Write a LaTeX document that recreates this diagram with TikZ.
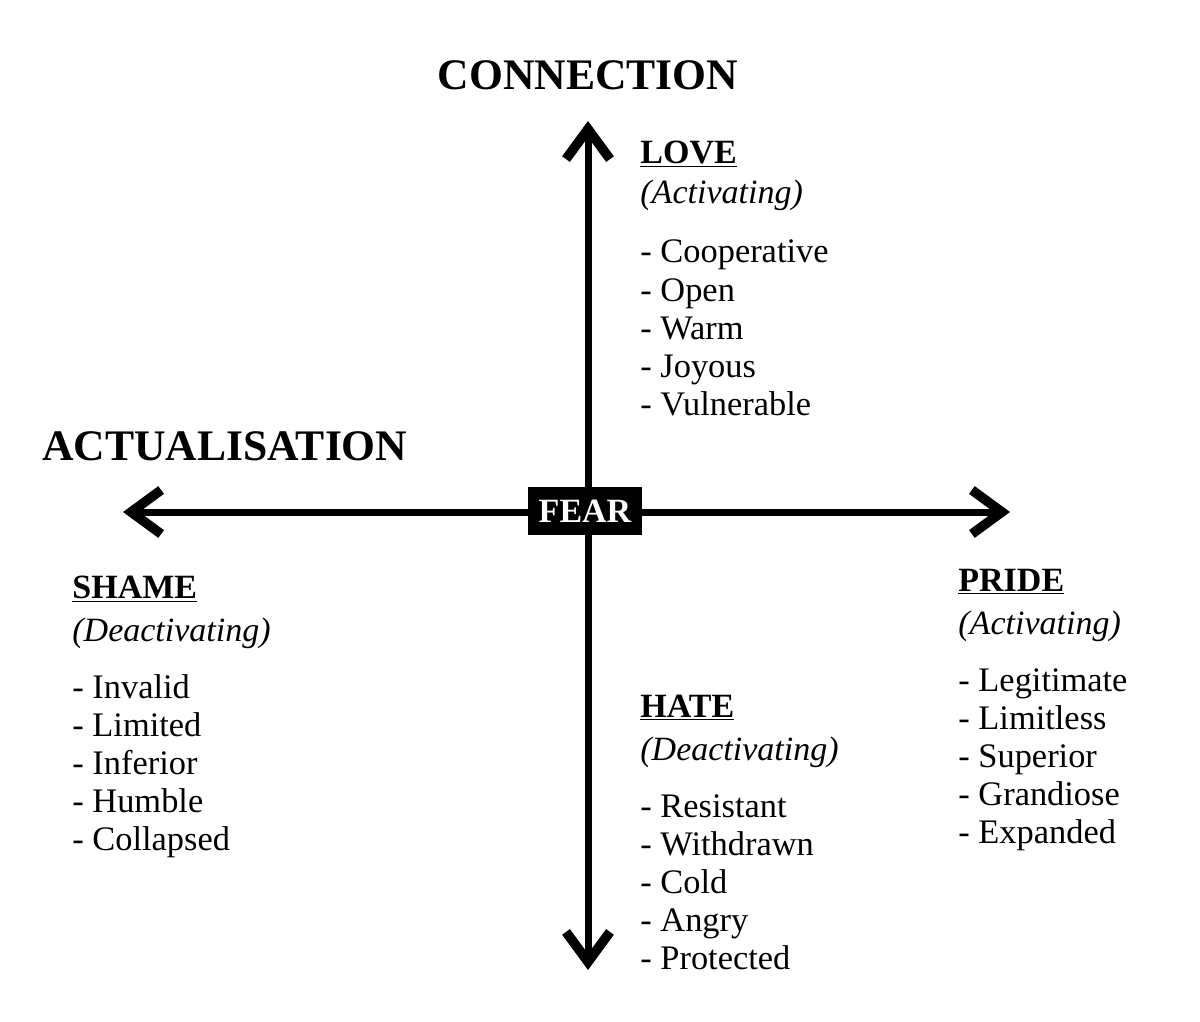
\documentclass[tikz,border=0pt]{standalone}
\usepackage{fontspec}
\setmainfont{Liberation Serif}
\usepackage{tikz}
\usetikzlibrary{positioning}
\usetikzlibrary{arrows.meta}

\tikzset{
  barb/.tip={Straight Barb[length=15pt, width=22pt, line width=4.8pt, line cap=butt, line join=miter]},
  axis/.style={line width=3.5pt, barb-barb},
  title/.style={font=\fontsize{21.8}{24}\selectfont\bfseries, inner sep=0pt},
  head/.style={font=\fontsize{17}{19}\selectfont\bfseries, anchor=base west, inner sep=0pt},
  kind/.style={font=\fontsize{17}{19}\selectfont\itshape, anchor=base west, inner sep=0pt},
  item/.style={font=\fontsize{17.2}{19}\selectfont, anchor=base west, inner sep=0pt},
  fearbox/.style={fill=black, text=white, font=\fontsize{17}{19}\selectfont\bfseries, minimum width=57pt, minimum height=24pt, inner sep=0pt}
}

\begin{document}
\begin{tikzpicture}[x=0.5pt, y=-0.5pt]
  \useasboundingbox (0,0) rectangle (1200,1022);

  % Titulos
  \node[title, anchor=base] (conn) at (588,90) {CONNECTION};
  \node[title, anchor=base west] (act) at (42,460) {ACTUALISATION};

  % Ejes
  \coordinate (top) at (588,121);
  \coordinate (bottom) at (588,970);
  \coordinate (west) at (123,512);
  \coordinate (east) at (1010,512);
  \draw[axis] (bottom) -- (top);
  \draw[axis] (west) -- (east);
  \node[fearbox] (fear) at (585,511) {FEAR};

  % Cuadrantes
  \node[head] (love) at (640,163) {\underline{LOVE}};
  \node[kind] (lovekind) at (640,204) {(Activating)};
  \foreach \w [count=\i] in {Cooperative, Open, Warm, Joyous, Vulnerable}
    \node[item] (love-\i) at (640,{263+38*(\i-1)}) {- \w};

  \node[head] (shame) at (72,598) {\underline{SHAME}};
  \node[kind] (shamekind) at (72,641) {(Deactivating)};
  \foreach \w [count=\i] in {Invalid, Limited, Inferior, Humble, Collapsed}
    \node[item] (shame-\i) at (72,{698+38*(\i-1)}) {- \w};

  \node[head] (pride) at (958,591) {\underline{PRIDE}};
  \node[kind] (pridekind) at (958,634) {(Activating)};
  \foreach \w [count=\i] in {Legitimate, Limitless, Superior, Grandiose, Expanded}
    \node[item] (pride-\i) at (958,{691+38*(\i-1)}) {- \w};

  \node[head] (hate) at (640,717) {\underline{HATE}};
  \node[kind] (hatekind) at (640,760) {(Deactivating)};
  \foreach \w [count=\i] in {Resistant, Withdrawn, Cold, Angry, Protected}
    \node[item] (hate-\i) at (640,{817+38*(\i-1)}) {- \w};
\end{tikzpicture}
\end{document}
